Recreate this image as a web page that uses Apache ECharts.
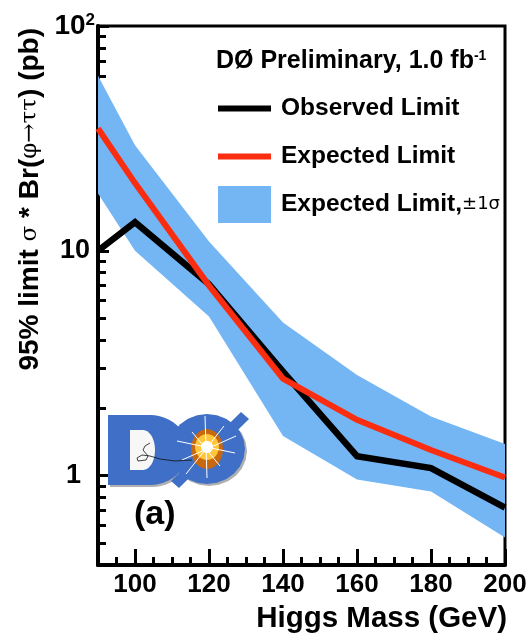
<!DOCTYPE html>
<html><head><meta charset="utf-8">
<style>html,body{margin:0;padding:0;background:#fff}#c{width:531px;height:636px}</style>
<script src="https://cdn.jsdelivr.net/npm/echarts@6/dist/echarts.min.js"></script>
</head><body><div id="c"></div>
<script>
const masses = [90,100,120,140,160,180,200];
const observed = [10,13.4,7.1,2.9,1.22,1.08,0.72];
const expected = [35,20,7.0,2.7,1.77,1.3,0.98];
const bandUpper = [60,29.5,11,4.8,2.8,1.83,1.38];
const bandLower = [18,10,5.1,1.5,0.96,0.85,0.53];
const xMajorTicks = [100,120,140,160,180,200];
const xMinorTicks = [95,105,110,115,125,130,135,145,150,155,165,170,175,185,190,195];
const yMajorTicks = [1,10,100];
const yMinorTicks = [0.5,0.6,0.7,0.8,0.9,2,3,4,5,6,7,8,9,20,30,40,50,60,70,80,90];
const F = '"Liberation Sans",Arial,sans-serif';
const chart = echarts.init(document.getElementById('c'), null, {renderer:'canvas'});
const bandPts = masses.map((m,i)=>[m,bandUpper[i]]).concat(masses.map((m,i)=>[m,bandLower[i]]).reverse());
const lineAxis = {lineStyle:{color:'#000',width:4}};
const lineIcon = 'path://M0,0L53,0L53,0ZM0,15.5L53,15.5L53,21.5L0,21.5ZM0,37L53,37L53,37Z';
function arc(cx,cy,rx,ry,a0,a1){const p=[];for(let i=0;i<=24;i++){const a=(a0+(a1-a0)*i/24)*Math.PI/180;p.push([cx+rx*Math.cos(a),cy+ry*Math.sin(a)]);}return p;}
const poly=(points,fill,z)=>({type:'polygon',z,shape:{points},style:{fill}});
const ray=(x1,y1,x2,y2,w)=>({type:'line',z:26,shape:{x1,y1,x2,y2},style:{stroke:'#fff',lineWidth:w||1}});
const dOuter=[[108,415],[150,415],...arc(150,450,38,35,-90,90),[108,485]];
const dShadow=dOuter.map(p=>[p[0]+2,p[1]+2]);
const dHole=[[130,430],[143,430],...arc(143,450,12,20,-90,90),[130,470]];
const logo = [
 poly(dShadow,'#b0b0b0',20),
 poly(arc(209,451,38,35,0,360),'#b0b0b0',20),
 poly(dOuter,'#3f6fc6',21),
 poly(dHole,'#f7f7f7',22),
 poly(arc(207,449,38,35,0,360),'#3f6fc6',22),
 poly([[171,481],[179,488],[249,419],[241,412]],'#3f6fc6',22),
 poly(arc(207,449,16,20,0,360),'#c8680f',23),
 poly(arc(207,447,12,13,0,360),'#ffc63a',24),
 poly(arc(207,447,6,6,0,360),'#ffffff',25),
 ray(205,416,207,478),ray(177,441,235,453),ray(236,436,182,460),ray(186,474,224,426),ray(192,432,220,466),
 {type:'polyline',z:26,shape:{points:[[192,460],[175,461],[160,459],[150,456],[142,455],[137,458],[138,461],[146,460],[148,456],[143,450],[145,446],[150,443]]},style:{stroke:'#111',lineWidth:0.8,fill:null}},
 {type:'text',z:26,left:134,top:498,style:{text:'(a)',font:'bold 34px '+F,fill:'#000'}}
];
chart.setOption({
 animation:false,
 backgroundColor:'#fff',
 grid:{left:98,right:26,top:26,bottom:71,show:true,borderColor:'#000',borderWidth:3,backgroundColor:'transparent'},
 xAxis:[
  {type:'value',min:90,max:200,position:'bottom',axisLine:lineAxis,splitLine:{show:false},
   axisTick:{show:true,inside:true,length:16,customValues:xMajorTicks,lineStyle:{color:'#000',width:3}},
   axisLabel:{customValues:xMajorTicks,margin:7,color:'#000',fontFamily:F,fontWeight:'bold',fontSize:26,hideOverlap:false,showMinLabel:true,showMaxLabel:true},
   name:'Higgs Mass (GeV)',nameLocation:'end',nameGap:2,
   nameTextStyle:{color:'#000',fontFamily:F,fontWeight:'bold',fontSize:29.5,align:'right',verticalAlign:'top',padding:[39,0,0,0]}},
  {type:'value',min:90,max:200,position:'bottom',axisLine:{show:false},splitLine:{show:false},
   axisTick:{show:true,inside:true,length:8,customValues:xMinorTicks,lineStyle:{color:'#000',width:3}},
   axisLabel:{show:false}}
 ],
 yAxis:[
  {type:'log',logBase:10,min:0.4,max:100,position:'left',axisLine:{...lineAxis,onZero:false},splitLine:{show:false},minorTick:{show:false},
   axisTick:{show:true,inside:true,length:11,customValues:yMajorTicks,lineStyle:{color:'#000',width:3}},
   axisLabel:{customValues:yMajorTicks,margin:3,color:'#000',fontFamily:F,fontWeight:'bold',fontSize:26,
    formatter:v=>{v=Math.round(v);return v===100?'{h|10}{s|2}':v===10?'{b|10}':'{o|1}';},
    rich:{h:{fontFamily:F,fontWeight:'bold',fontSize:28,color:'#000'},b:{fontFamily:F,fontWeight:'bold',fontSize:27,color:'#000',padding:[0,5,0,0]},s:{fontFamily:F,fontWeight:'bold',fontSize:17,color:'#000',verticalAlign:'top',padding:[0,0,10,0]},o:{fontFamily:F,fontWeight:'bold',fontSize:27,color:'#000',padding:[0,14,0,0]}}},
   name:'{t|95% limit }{g|σ}{t| * Br(}{g|φ→ττ}{t|) (pb)}',nameLocation:'end',nameRotate:90,nameGap:0,
   nameTextStyle:{rich:{t:{fontFamily:F,fontWeight:'bold',fontSize:28,color:'#000'},g:{fontFamily:'"DejaVu Serif",serif',fontSize:23,color:'#000'}},align:'right',verticalAlign:'bottom',padding:[0,2,54,0]}},
  {type:'log',logBase:10,min:0.4,max:100,position:'left',axisLine:{show:false},splitLine:{show:false},
   axisTick:{show:true,inside:true,length:8,customValues:yMinorTicks,lineStyle:{color:'#000',width:3}},
   axisLabel:{show:false}}
 ],
 legend:{orient:'vertical',left:218,top:90,padding:0,itemWidth:53,itemHeight:37,itemGap:11,selectedMode:false,
  data:[{name:'Observed Limit',icon:lineIcon},{name:'Expected Limit',icon:lineIcon},{name:'Expected Limit,±1σ',icon:'rect'}],
  formatter:n=>n.indexOf('±')>=0?'{t|Expected Limit,}{g|±1σ}':'{t|'+n+'}',
  textStyle:{rich:{t:{fontFamily:F,fontWeight:'bold',fontSize:24.5,color:'#000',padding:[0,0,0,5]},g:{fontFamily:'"DejaVu Sans",sans-serif',fontSize:18,color:'#000'}}}},
 series:[
  {name:'Expected Limit,±1σ',type:'custom',coordinateSystem:'cartesian2d',z:1,data:bandPts,clip:true,
   encode:{x:0,y:1},itemStyle:{color:'#74b6f4'},
   renderItem:(p,api)=>{
     if(p.dataIndex!==0) return null;
     return {type:'polygon',shape:{points:bandPts.map(d=>api.coord(d))},style:{fill:'#74b6f4'}};
   }},
  {name:'Observed Limit',type:'line',z:3,symbol:'none',data:masses.map((m,i)=>[m,observed[i]]),lineStyle:{color:'#000',width:6.5,join:'miter'},itemStyle:{color:'#000'}},
  {name:'Expected Limit',type:'line',z:4,symbol:'none',data:masses.map((m,i)=>[m,expected[i]]),lineStyle:{color:'#fb2d10',width:6,join:'miter'},itemStyle:{color:'#fb2d10'}}
 ],
 graphic:[
  {type:'text',z:20,left:216,top:49,style:{text:'{t|DØ Preliminary, 1.0 fb}{s|-1}',rich:{t:{font:'bold 25px '+F,fill:'#000'},s:{font:'bold 14px '+F,fill:'#000',verticalAlign:'top',padding:[0,0,10,0]}}}},
  ...logo
 ]
});
</script></body></html>
